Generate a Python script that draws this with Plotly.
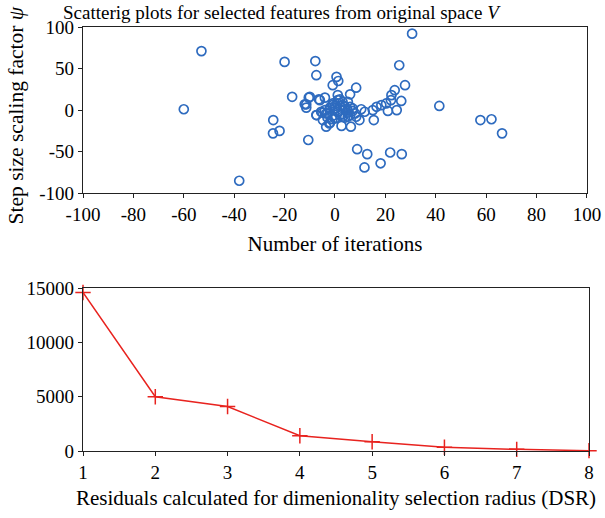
import plotly.graph_objects as go

# top panel: scatter of selected features
iter_x = [-60, -53, -38, -20, -17, -24.5, -24.6, -22, -10.6, -7.8, -7.4, 30.6, 25.5, 27.8,
          41.4, 57.7, 62.1, 66.3, 8.8, 12.8, 11.7, 18.1, 21.9, 26.5,
          0.6, 1.3, -0.9, 8.4, 6, 23.7, 22.4, 26.3, 24.5, 21, 18.4, 16.5, 15.4, 11.8,
          2.6, 6.3, -3.5, -10, -6.4, -11.4, -11.4, -7.4, -12, -2, -10.4, -6, -4,
          22.2, 20.3, 15, 10.4, 8.4, 9.7, 5.1, 1.1, 1.1, 5.1, 3.1, -0.9, -3.5, -4.8,
          -2.2, -5.5, -7.3,
          -4, -3, -2, -1, 0, 1, 2, 3, 4, 5, 6, 7, -3, -1, 1, 3, 5, 0, 2, 4, -2, 6,
          -5, 7, 8, 3, 0, -1, 2, 4]
psi_y = [1, 71, -85, 58, 16, -12, -28, -25, -36, 59, 42, 92, 54, 30,
         5, -12, -11, -28, -47, -53, -69, -64, -51, -53,
         40, 35, 30, 27, 19, 24, 18, 11, 0, -1, 6, 4, -12, -2,
         -19, -20, -20, 16, 13, 3, 7, -6, 7, -15, 15, 12, 15,
         12, 8, 0, 1, -8, -12, -8, 12, 18, 10, 6, 8, -4, -12,
         -16, -2, -6,
         0, -4, 3, -7, 2, -2, 5, -5, 1, -3, 4, -1, -9, 6, 8, -8, 0, -10, -6, 4, 1, -6,
         -3, 2, -4, 10, 5, -11, 13, -9]

# bottom panel: residuals vs DSR
dsr = [1, 2, 3, 4, 5, 6, 7, 8]
residuals = [14600, 5000, 4100, 1400, 850, 350, 150, 30]

x_ticks = [-100, -80, -60, -40, -20, 0, 20, 40, 60, 80, 100]
y_ticks = [-100, -50, 0, 50, 100]
res_ticks = [0, 5000, 10000, 15000]

font = "Liberation Serif"

fig = go.Figure()
fig.add_trace(go.Scatter(
    x=iter_x, y=psi_y, mode="markers", xaxis="x", yaxis="y",
    marker=dict(symbol="circle-open", size=9, color="#2e6bbf", line=dict(width=1.7)),
))
fig.add_trace(go.Scatter(
    x=dsr, y=residuals, mode="lines+markers", xaxis="x2", yaxis="y2",
    line=dict(color="#e8231f", width=1.5),
    marker=dict(symbol="cross-thin", size=11, color="#e8231f", line=dict(width=1.5, color="#e8231f")),
    cliponaxis=False,
))

axis_common = dict(
    showgrid=False, zeroline=False, showline=True, linecolor="#222", linewidth=1.3,
    mirror=True, ticks="outside", ticklen=4, tickcolor="#222", tickwidth=1.3,
    automargin=False,
    tickfont=dict(family=font, size=19, color="black"),
)

fig.update_layout(
    width=605, height=518,
    margin=dict(l=83, r=16, t=27, b=67),
    plot_bgcolor="white", paper_bgcolor="white",
    showlegend=False,
    font=dict(family=font, color="black"),
    xaxis=dict(axis_common, domain=[0, 0.996], anchor="y", range=[-100, 100],
               tickvals=x_ticks, ticktext=[str(v) for v in x_ticks],
               title=dict(text="Number of iterations", font=dict(size=21), standoff=12)),
    yaxis=dict(axis_common, domain=[0.608, 1], anchor="x", range=[-100, 100],
               tickvals=y_ticks, ticktext=[str(v) for v in y_ticks]),
    xaxis2=dict(axis_common, domain=[0, 1], anchor="y2", range=[1, 8],
                tickvals=dsr, ticktext=[str(v) for v in dsr],
                title=dict(text="Residuals calculated for dimenionality selection radius (DSR)",
                           font=dict(size=21), standoff=8)),
    yaxis2=dict(axis_common, domain=[0, 0.384], anchor="x2", range=[0, 15000],
                tickvals=res_ticks, ticktext=[str(v) for v in res_ticks]),
    annotations=[
        dict(text="Scatterig plots for selected features from original space <i>V</i>",
             xref="paper", yref="paper", x=-0.043, y=1.0, xanchor="left", yanchor="bottom",
             showarrow=False, font=dict(family=font, size=19, color="black"), yshift=2),
        dict(text="Step size scaling factor <i>ψ</i>",
             xref="paper", yref="paper", x=-0.132, y=0.792, xanchor="center", yanchor="middle",
             textangle=-90, showarrow=False, font=dict(family=font, size=21.5, color="black")),
    ],
)

# drop the default 8px page margin so the figure sits at the window corner
fig.write_html("out.html", config={"displayModeBar": False},
               post_script="document.body.style.margin='0';")
